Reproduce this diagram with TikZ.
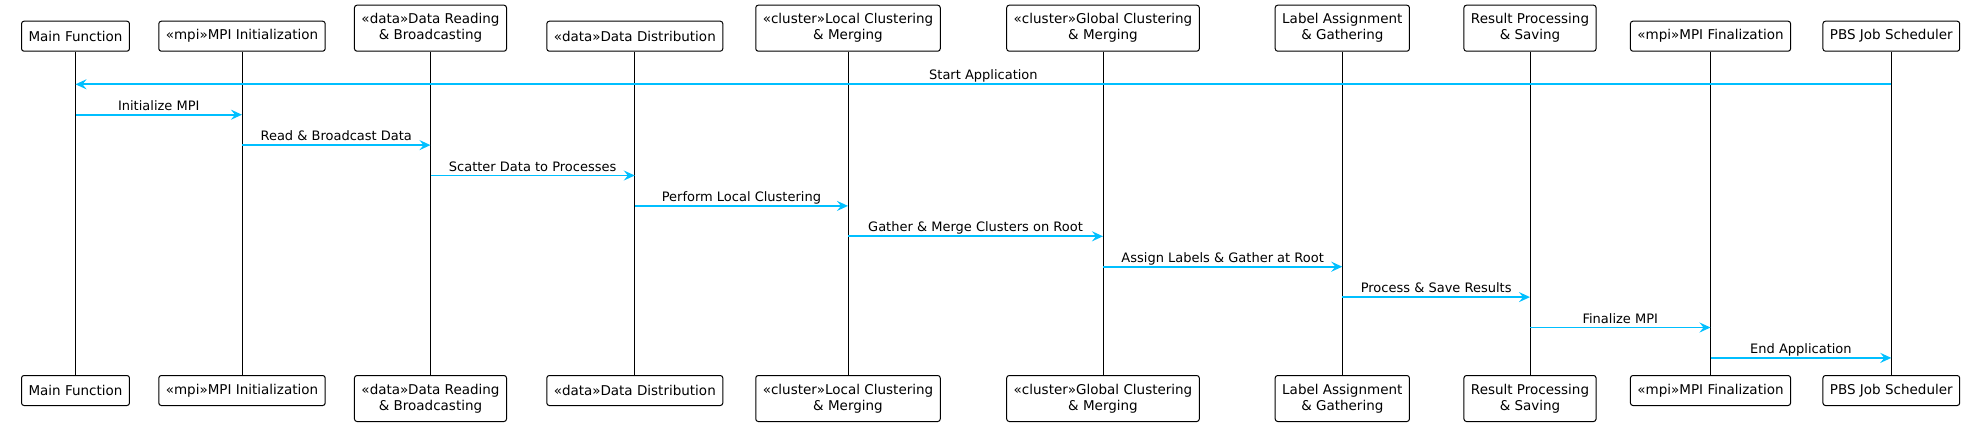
\documentclass[tikz,border=0pt]{standalone}
\usepackage{fontspec}
\setmainfont{DejaVu Sans}
\usetikzlibrary{arrows.meta}
\definecolor{SeqArrow}{HTML}{00BFFF}
\definecolor{SeqLine}{HTML}{000000}

\begin{document}
\begin{tikzpicture}[x=1pt,y=-1pt,
  part/.style={draw=SeqLine,line width=1pt,rounded corners=2.5pt,fill=white,align=center,
    inner xsep=7pt,inner ysep=0pt,minimum height=30pt,font=\fontsize{13.5}{16}\selectfont},
  parttwo/.style={part,minimum height=46pt},
  life/.style={draw=SeqLine,line width=1pt},
  msg/.style={draw=SeqArrow,line width=1.8pt,-{Stealth[length=11pt,width=10pt,inset=4pt]}},
  msglabel/.style={font=\fontsize{13}{15}\selectfont,anchor=base,yshift=4.5pt}]
\path[use as bounding box] (0,0) rectangle (1967,426);
% participants, top row
\node[part,anchor=south] (mainT) at (75.5,51.7) {Main Function};
\node[part,anchor=south] (mpiInitT) at (242,51.7) {«mpi»MPI Initialization};
\node[parttwo,anchor=south] (dataReadT) at (430.5,51.7) {«data»Data Reading\\\& Broadcasting};
\node[part,anchor=south] (dataDistT) at (634.8,51.7) {«data»Data Distribution};
\node[parttwo,anchor=south] (localCluT) at (848,51.7) {«cluster»Local Clustering\\\& Merging};
\node[parttwo,anchor=south] (globalCluT) at (1103,51.7) {«cluster»Global Clustering\\\& Merging};
\node[parttwo,anchor=south] (labelAssT) at (1342.3,51.7) {Label Assignment\\\& Gathering};
\node[parttwo,anchor=south] (resultT) at (1530,51.7) {Result Processing\\\& Saving};
\node[part,anchor=south] (mpiFinT) at (1710.5,51.7) {«mpi»MPI Finalization};
\node[part,anchor=south] (pbsT) at (1891.3,51.7) {PBS Job Scheduler};
% participants, bottom row
\node[part,anchor=north] (mainB) at (75.5,375) {Main Function};
\node[part,anchor=north] (mpiInitB) at (242,375) {«mpi»MPI Initialization};
\node[parttwo,anchor=north] (dataReadB) at (430.5,375) {«data»Data Reading\\\& Broadcasting};
\node[part,anchor=north] (dataDistB) at (634.8,375) {«data»Data Distribution};
\node[parttwo,anchor=north] (localCluB) at (848,375) {«cluster»Local Clustering\\\& Merging};
\node[parttwo,anchor=north] (globalCluB) at (1103,375) {«cluster»Global Clustering\\\& Merging};
\node[parttwo,anchor=north] (labelAssB) at (1342.3,375) {Label Assignment\\\& Gathering};
\node[parttwo,anchor=north] (resultB) at (1530,375) {Result Processing\\\& Saving};
\node[part,anchor=north] (mpiFinB) at (1710.5,375) {«mpi»MPI Finalization};
\node[part,anchor=north] (pbsB) at (1891.3,375) {PBS Job Scheduler};
% lifelines
\draw[life] (mainT) -- (mainB);
\draw[life] (mpiInitT) -- (mpiInitB);
\draw[life] (dataReadT) -- (dataReadB);
\draw[life] (dataDistT) -- (dataDistB);
\draw[life] (localCluT) -- (localCluB);
\draw[life] (globalCluT) -- (globalCluB);
\draw[life] (labelAssT) -- (labelAssB);
\draw[life] (resultT) -- (resultB);
\draw[life] (mpiFinT) -- (mpiFinB);
\draw[life] (pbsT) -- (pbsB);
% messages
\draw[msg] (pbsT |- 0,84.3) -- node[msglabel,midway] {Start Application} (mainT |- 0,84.3);
\draw[msg] (mainT |- 0,114.7) -- node[msglabel,midway] {Initialize MPI} (mpiInitT |- 0,114.7);
\draw[msg] (mpiInitT |- 0,145.1) -- node[msglabel,midway] {Read \& Broadcast Data} (dataReadT |- 0,145.1);
\draw[msg] (dataReadT |- 0,175.5) -- node[msglabel,midway] {Scatter Data to Processes} (dataDistT |- 0,175.5);
\draw[msg] (dataDistT |- 0,205.9) -- node[msglabel,midway] {Perform Local Clustering} (localCluT |- 0,205.9);
\draw[msg] (localCluT |- 0,236.3) -- node[msglabel,midway] {Gather \& Merge Clusters on Root} (globalCluT |- 0,236.3);
\draw[msg] (globalCluT |- 0,266.7) -- node[msglabel,midway] {Assign Labels \& Gather at Root} (labelAssT |- 0,266.7);
\draw[msg] (labelAssT |- 0,297.1) -- node[msglabel,midway] {Process \& Save Results} (resultT |- 0,297.1);
\draw[msg] (resultT |- 0,327.5) -- node[msglabel,midway] {Finalize MPI} (mpiFinT |- 0,327.5);
\draw[msg] (mpiFinT |- 0,357.9) -- node[msglabel,midway] {End Application} (pbsT |- 0,357.9);
\end{tikzpicture}
\end{document}
